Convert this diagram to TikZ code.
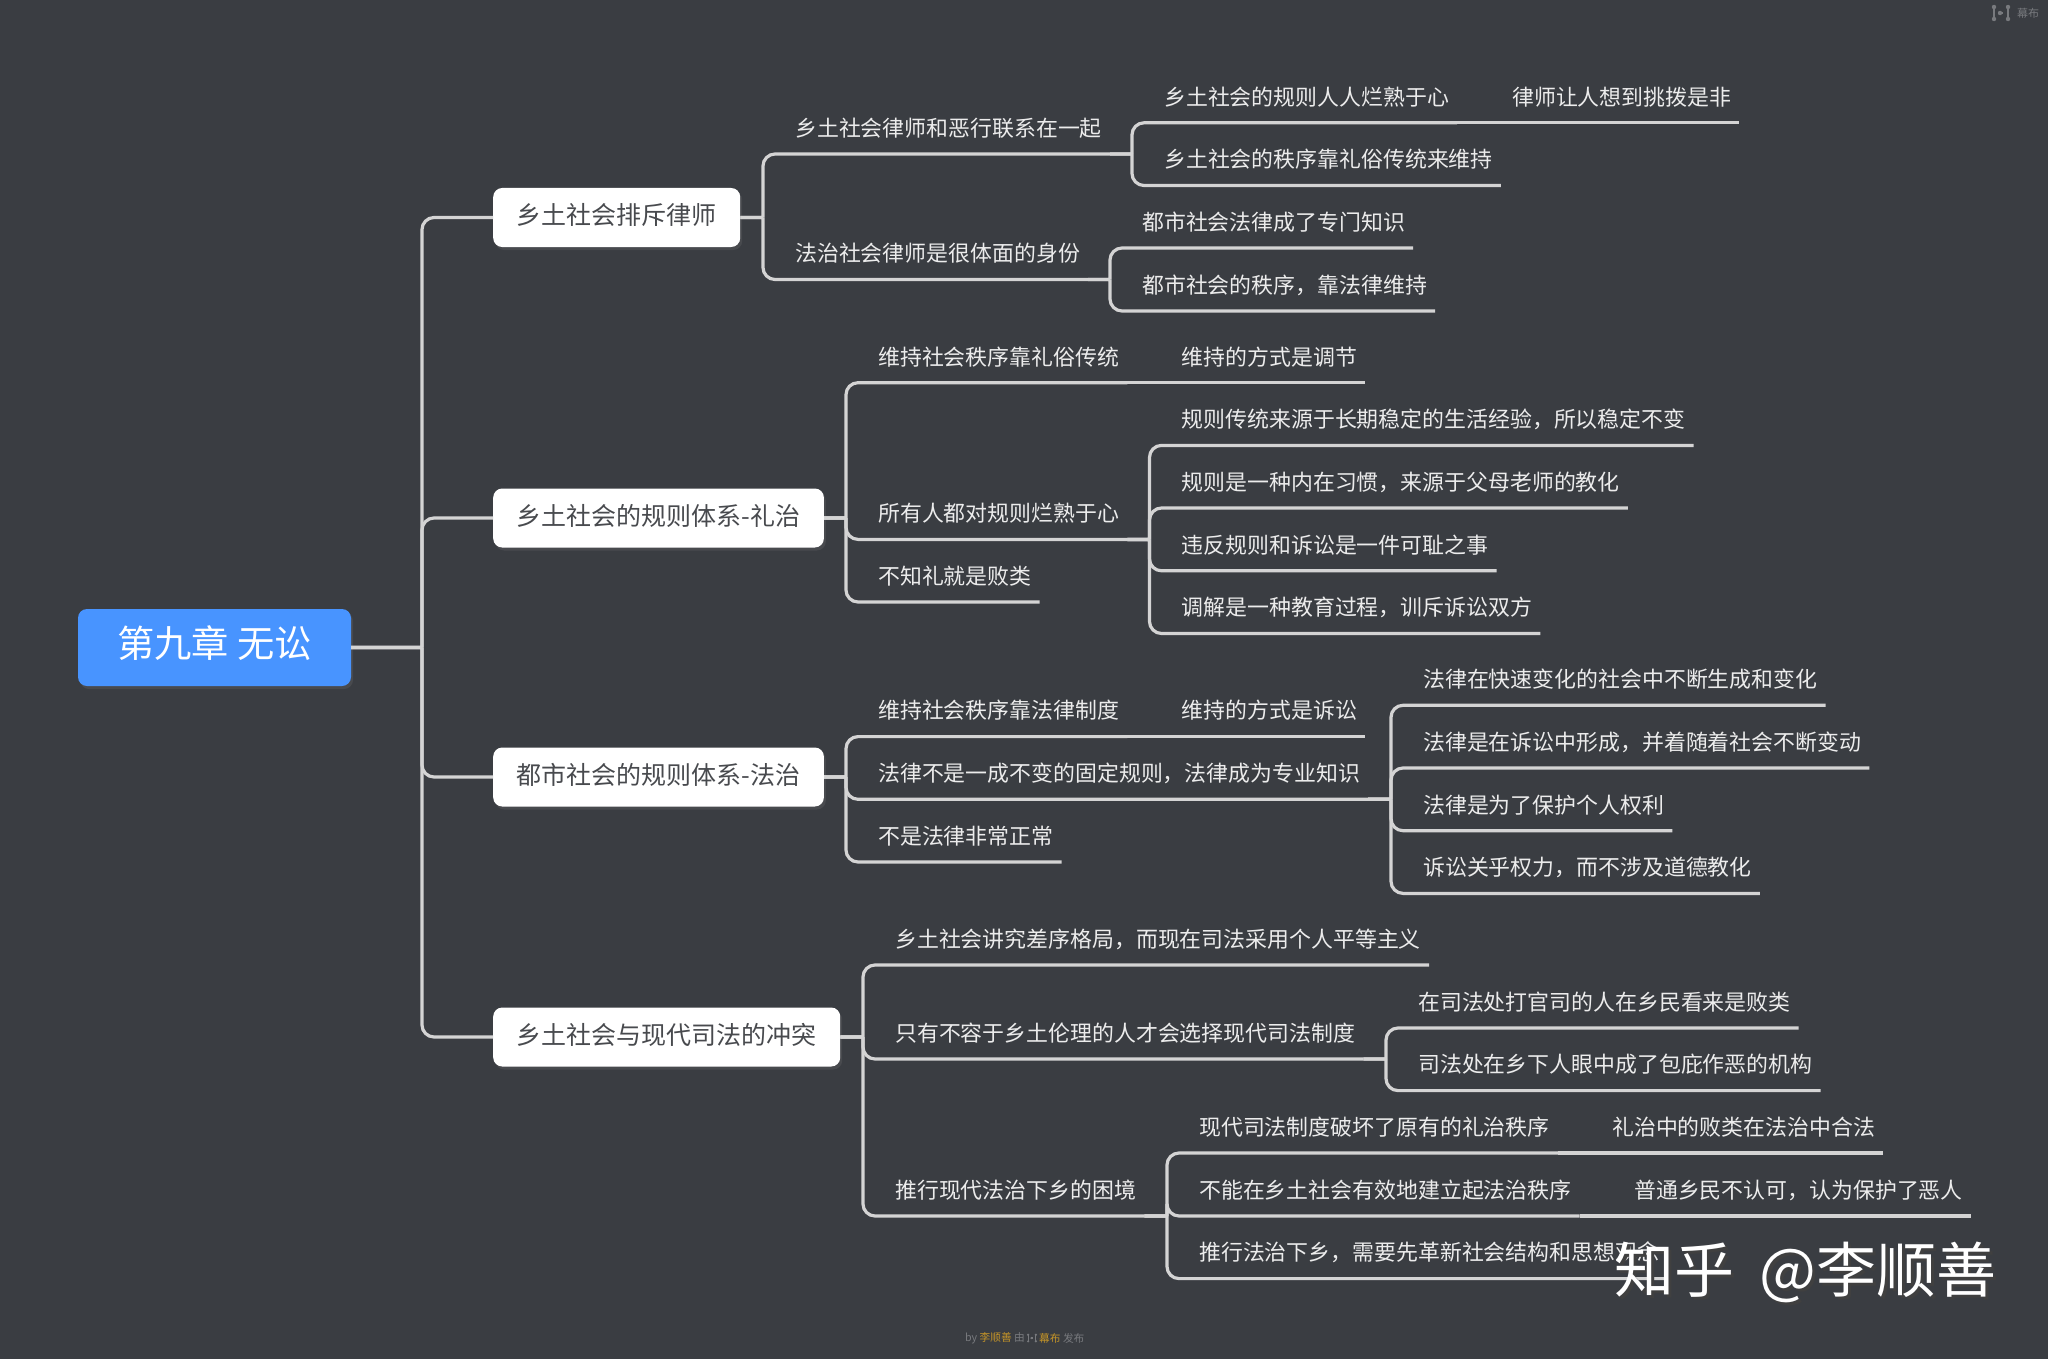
\documentclass[tikz,border=0pt]{standalone}
\definecolor{bgdark}{RGB}{58, 61, 66}
\definecolor{rootblue}{RGB}{72, 148, 255}
\definecolor{linegray}{RGB}{212, 212, 212}
\definecolor{boxtext}{RGB}{72, 74, 78}
\definecolor{leaftext}{RGB}{236, 236, 236}
\definecolor{footgray}{RGB}{120, 122, 126}
\definecolor{footgold}{RGB}{196, 148, 40}
\usepackage{fontspec}
\setmainfont{Noto Sans CJK SC}
\usetikzlibrary{shadows}

\tikzset{
  rootbox/.style={fill=rootblue, text=white, rounded corners=9pt, minimum width=273pt, minimum height=77pt, inner sep=0pt, text height=33pt, text depth=12.5pt, font=\fontsize{37.3}{44}\selectfont, drop shadow={opacity=.2, shadow xshift=2pt, shadow yshift=-3pt}},
  topicbox/.style={fill=white, text=boxtext, rounded corners=9pt, anchor=west, minimum height=59pt, inner xsep=23.5pt, inner ysep=0pt, text height=22pt, text depth=8pt, font=\fontsize{25}{29}\selectfont, drop shadow={opacity=.2, shadow xshift=2pt, shadow yshift=-3pt}},
  leaf/.style={text=leaftext, anchor=south west, inner xsep=8pt, inner ysep=14.5pt, text height=19pt, text depth=3pt, font=\fontsize{21.9}{26}\selectfont},
  link/.style={draw=linegray, line width=3.2pt, rounded corners=12pt},
  logomark/.pic={
    \draw[line width=1.2pt] (-7,-6) -- (-7,6) (7,-6) -- (7,6) (-2,0) -- (2,0);
    \foreach \dotx/\doty in {-7/-6, 7/-6, -7/6, 7/6, -1/0}
      \fill (\dotx,\doty) circle (2.2);
  },
}

\begin{document}
\begin{tikzpicture}[x=1pt, y=-1pt]
  \fill[bgdark] (0,0) rectangle (2048,1359);

  \node[rootbox] (root) at (214.5,647.5) {第九章 无讼};
  \node[topicbox] (boxA) at (493,217.5) {乡土社会排斥律师};
  \node[topicbox] (boxB) at (493,518) {乡土社会的规则体系-礼治};
  \node[topicbox] (boxC) at (493,777) {都市社会的规则体系-法治};
  \node[topicbox] (boxD) at (493,1037) {乡土社会与现代司法的冲突};

  \node[leaf] (leafA1) at (787,154) {乡土社会律师和恶行联系在一起};
  \node[leaf] (leafA2) at (787,279.5) {法治社会律师是很体面的身份};
  \node[leaf] (leafA11) at (1156,122.8) {乡土社会的规则人人烂熟于心};
  \node[leaf] (leafA111) at (1504,122.8) {律师让人想到挑拨是非};
  \node[leaf] (leafA12) at (1156,185.5) {乡土社会的秩序靠礼俗传统来维持};
  \node[leaf] (leafA21) at (1134,248) {都市社会法律成了专门知识};
  \node[leaf] (leafA22) at (1134,311) {都市社会的秩序，靠法律维持};

  \node[leaf] (leafB1) at (870,382.7) {维持社会秩序靠礼俗传统};
  \node[leaf] (leafB11) at (1173.5,382.7) {维持的方式是调节};
  \node[leaf] (leafB2) at (870,539.4) {所有人都对规则烂熟于心};
  \node[leaf] (leafB3) at (870,602) {不知礼就是败类};
  \node[leaf] (leafB21) at (1173.5,445.4) {规则传统来源于长期稳定的生活经验，所以稳定不变};
  \node[leaf] (leafB22) at (1173.5,508) {规则是一种内在习惯，来源于父母老师的教化};
  \node[leaf] (leafB23) at (1173.5,570.8) {违反规则和诉讼是一件可耻之事};
  \node[leaf] (leafB24) at (1173.5,633.5) {调解是一种教育过程，训斥诉讼双方};

  \node[leaf] (leafC1) at (870,736.6) {维持社会秩序靠法律制度};
  \node[leaf] (leafC11) at (1173.5,736.6) {维持的方式是诉讼};
  \node[leaf] (leafC2) at (870,799.3) {法律不是一成不变的固定规则，法律成为专业知识};
  \node[leaf] (leafC3) at (870,862) {不是法律非常正常};
  \node[leaf] (leafC21) at (1415,705.3) {法律在快速变化的社会中不断生成和变化};
  \node[leaf] (leafC22) at (1415,768) {法律是在诉讼中形成，并着随着社会不断变动};
  \node[leaf] (leafC23) at (1415,830.7) {法律是为了保护个人权利};
  \node[leaf] (leafC24) at (1415,893.4) {诉讼关乎权力，而不涉及道德教化};

  \node[leaf] (leafD1) at (887,965) {乡土社会讲究差序格局，而现在司法采用个人平等主义};
  \node[leaf] (leafD2) at (887,1059) {只有不容于乡土伦理的人才会选择现代司法制度};
  \node[leaf] (leafD3) at (887,1216) {推行现代法治下乡的困境};
  \node[leaf] (leafD21) at (1410,1028) {在司法处打官司的人在乡民看来是败类};
  \node[leaf] (leafD22) at (1410,1090.6) {司法处在乡下人眼中成了包庇作恶的机构};
  \node[leaf] (leafD31) at (1191,1153) {现代司法制度破坏了原有的礼治秩序};
  \node[leaf] (leafD311) at (1604,1153) {礼治中的败类在法治中合法};
  \node[leaf] (leafD32) at (1191,1216) {不能在乡土社会有效地建立起法治秩序};
  \node[leaf] (leafD321) at (1626,1216) {普通乡民不认可，认为保护了恶人};
  \node[leaf] (leafD33) at (1191,1278.6) {推行法治下乡，需要先革新社会结构和思想观念};

  \foreach \kid in {boxA, boxB, boxC, boxD}
    \draw[link] (root.east) -- ([xshift=-71pt]\kid.west |- root.east) ([xshift=-71pt]\kid.west |- root.east) |- (\kid.west);

  \foreach \up/\kid in {boxA/leafA1, boxA/leafA2, boxB/leafB1, boxB/leafB2, boxB/leafB3, boxC/leafC1, boxC/leafC2, boxC/leafC3, boxD/leafD1, boxD/leafD2, boxD/leafD3}
    \draw[link] (\up.east) -- ([xshift=-24pt]\kid.south west |- \up.east) ([xshift=-24pt]\kid.south west |- \up.east) |- (\kid.south east);

  \foreach \up/\kid in {leafA1/leafA11, leafA1/leafA12, leafA2/leafA21, leafA2/leafA22, leafB2/leafB21, leafB2/leafB22, leafB2/leafB23, leafB2/leafB24, leafC2/leafC21, leafC2/leafC22, leafC2/leafC23, leafC2/leafC24, leafD2/leafD21, leafD2/leafD22, leafD3/leafD31, leafD3/leafD32, leafD3/leafD33}
    \draw[link] (\up.south east) -- ([xshift=-24pt]\kid.south west |- \up.south east) ([xshift=-24pt]\kid.south west |- \up.south east) |- (\kid.south east);

  \foreach \up/\kid in {leafA11/leafA111, leafB1/leafB11, leafC1/leafC11, leafD31/leafD311, leafD32/leafD321}
    \draw[link] (\up.south east) -- (\kid.south east);

  % watermark and small marks
  \node[anchor=west, inner sep=0pt, text=black!75, font=\fontsize{60}{72}\selectfont] (markshadow) at (1617,1275) {知乎\hspace{12pt} @李顺善};
  \node[anchor=west, inner sep=0pt, text=white, font=\fontsize{60}{72}\selectfont] (mark) at (1614,1272) {知乎\hspace{12pt} @李顺善};

  \pic[footgray] at (2001,13) {logomark};
  \node[anchor=west, inner sep=0pt, text=footgray, font=\fontsize{11}{13}\selectfont] (brand) at (2017,13) {幕布};

  \node[anchor=east, inner sep=0pt, text=footgray, font=\fontsize{10.7}{13}\selectfont] (footl) at (1025,1338) {by \textcolor{footgold}{李顺善} 由};
  \pic[footgray, scale=.55] at (1032,1338) {logomark};
  \node[anchor=west, inner sep=0pt, text=footgray, font=\fontsize{10.7}{13}\selectfont] (footr) at (1039,1338) {\textcolor{footgold}{幕布} 发布};
\end{tikzpicture}
\end{document}
